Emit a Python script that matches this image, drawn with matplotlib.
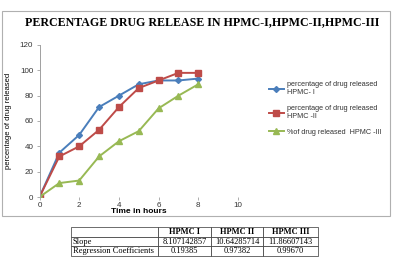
import numpy as np
import matplotlib
matplotlib.use("Agg")
import matplotlib.pyplot as plt
from matplotlib.patches import Rectangle

# data
hours = [0, 1, 2, 3, 4, 5, 6, 7, 8]
hpmc_1 = [0, 35, 49, 71, 80, 89, 92, 92, 93.5]
hpmc_2 = [0, 32, 40, 53, 71, 86, 92, 98, 98]
hpmc_3 = [0, 11, 13, 32, 44, 52, 70, 80, 89]

series_labels = ["percentage of drug released\nHPMC- I",
                 "percentage of drug released\nHPMC -II",
                 "%of drug released  HPMC -III"]
x_ticks = [0, 2, 4, 6, 8, 10]
y_ticks = [0, 20, 40, 60, 80, 100, 120]

table_cols = ["", "HPMC I", "HPMC II", "HPMC III"]
table_rows = [["Slope", "8.107142857", "10.64285714", "11.86607143"],
              ["Regression Coefficients", "0.19385", "0.97382", "0.99670"]]

W, H = 394, 260
fig = plt.figure(figsize=(W / 100, H / 100), dpi=100)
fig.patch.set_facecolor("white")

# chart frame
fig.patches.append(Rectangle((2 / W, 1 - 216 / H), 388 / W, 205 / H,
                             transform=fig.transFigure, fill=False,
                             edgecolor="#b0b0b0", linewidth=0.8))

fig.text(202 / W, 1 - 22 / H, "PERCENTAGE DRUG RELEASE IN HPMC-I,HPMC-II,HPMC-III",
         ha="center", va="center", fontsize=8.6, fontweight="bold",
         family="Liberation Serif")

ax = fig.add_axes([39.5 / W, 1 - 197 / H, (238 - 39.5) / W, (197 - 45) / H])
colors = ["#4a7ebb", "#be4b48", "#98b954"]
markers = ["D", "s", "^"]
sizes = [3, 5, 4.5]
for ys, c, m, s, lab in zip([hpmc_1, hpmc_2, hpmc_3], colors, markers, sizes, series_labels):
    ax.plot(hours, ys, color=c, marker=m, markersize=s, linewidth=1.4, label=lab)

ax.set_xlim(0, 10)
ax.set_ylim(0, 120)
ax.set_xticks(x_ticks)
ax.set_yticks(y_ticks)
for sp in ["top", "right", "bottom"]:
    ax.spines[sp].set_visible(False)
ax.spines["left"].set_color("#a0a0a0")
ax.spines["left"].set_linewidth(0.7)
ax.tick_params(axis="y", length=2.5, width=0.6, color="#a0a0a0", labelsize=5.8,
               labelcolor="#333333", pad=2)
ax.tick_params(axis="x", length=2, width=0.6, color="#a0a0a0", labelsize=5.8,
               labelcolor="#333333", pad=1.5)
for t in ax.get_xticklabels() + ax.get_yticklabels():
    t.set_family("Liberation Sans")
ax.set_xlabel("Time in hours", fontsize=6, fontweight="bold", family="Liberation Sans")
ax.xaxis.set_label_coords(0.5, -0.098)
ax.xaxis.label.set_va("center")
ax.set_ylabel("percentage of drug released", fontsize=5.5, family="Liberation Sans",
              labelpad=6)
ax.patch.set_alpha(0)

leg = fig.legend(loc="upper left", bbox_to_anchor=(262 / W, 1 - 75 / H),
                 frameon=False, handlelength=2.2, handletextpad=0.3,
                 labelspacing=1.2, prop={"family": "Liberation Sans", "size": 5.2})
for t in leg.get_texts():
    t.set_color("#333333")

# data table below the chart
tab_ax = fig.add_axes([71 / W, 1 - 256 / H, (318 - 71) / W, 29 / H])
tab_ax.axis("off")
tbl = tab_ax.table(cellText=table_rows, colLabels=table_cols, loc="center",
                   cellLoc="center", colWidths=[87, 53, 52, 55],
                   bbox=[0, 0, 1, 1])
tbl.auto_set_font_size(False)
for (r, c), cell in tbl.get_celld().items():
    cell.set_linewidth(0.5)
    cell.set_edgecolor("#333333")
    cell.PAD = 0.02
    txt = cell.get_text()
    txt.set_family("Liberation Serif")
    txt.set_fontsize(6.0)
    if r == 0:
        txt.set_fontweight("bold")
    elif c == 0:
        txt.set_ha("left")
        cell._loc = "left"

fig.savefig("out.png", dpi=100)
